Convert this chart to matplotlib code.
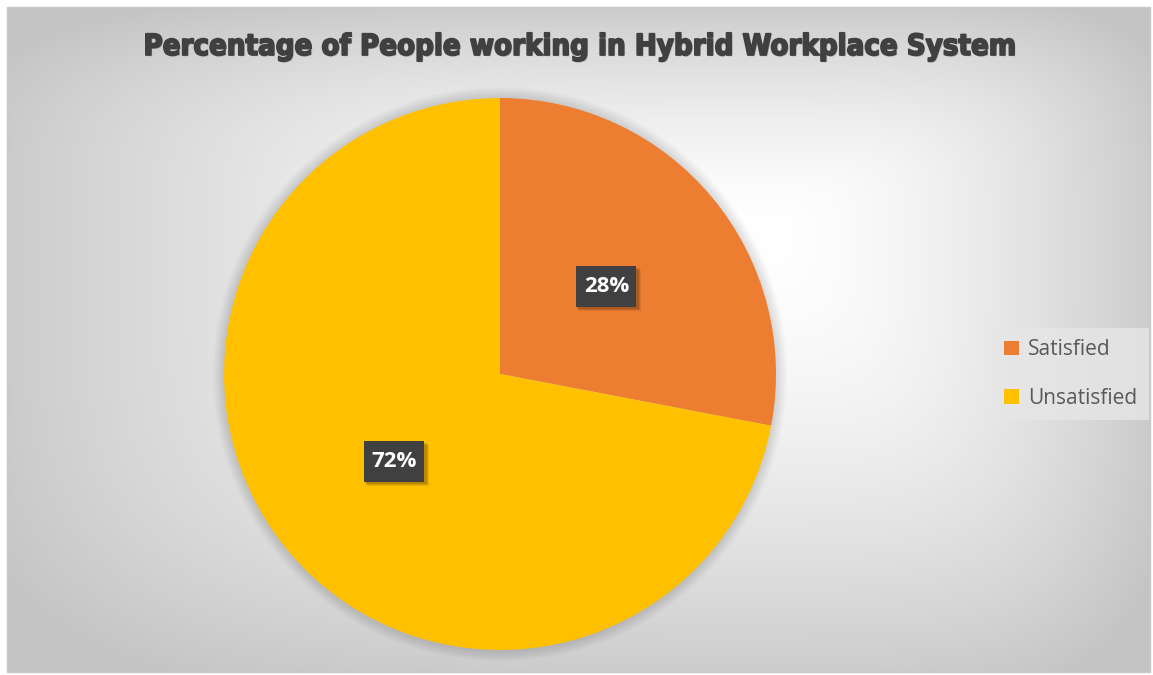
import matplotlib
matplotlib.use('Agg')
import matplotlib.pyplot as plt
import matplotlib.patheffects as pe
import matplotlib.transforms as mtransforms
from matplotlib.patches import Rectangle, Patch, Circle
import numpy as np

labels = ['Satisfied', 'Unsatisfied']
values = [28, 72]
colors = ['#ED7D31', '#FFC000']
title = 'Percentage of People working in Hybrid Workplace System'

W, H = 1153, 675
fig = plt.figure(figsize=(W / 100, H / 100), dpi=100)
fig.patch.set_facecolor('white')

# background: rectangular path gradient, white at (760, 230), grey at the edges
bg = fig.add_axes([0, 0, 1, 1])
bg.set_xlim(0, W)
bg.set_ylim(H, 0)
bg.axis('off')
yy, xx = np.mgrid[7:672, 7:1150].astype(float)
cx, cy = 760.0, 230.0
dx = np.where(xx < cx, (cx - xx) / (cx - 7), (xx - cx) / (1150 - cx))
dy = np.where(yy < cy, (cy - yy) / (cy - 7), (yy - cy) / (672 - cy))
d = (dx ** 4 + dy ** 4) ** 0.25
shade = np.clip(1.0 - 0.2 * d ** 1.6, 0.77, 1.0)
img = np.dstack([shade, shade, shade])
bg.imshow(img, extent=(7, 1150, 672, 7), aspect='auto', zorder=0)
bg.add_patch(Rectangle((7, 7), 1143, 665, fill=False, edgecolor='#c8c8c8', lw=1, zorder=1))

bg.text(580, 47, title, ha='center', va='center', fontsize=21, fontweight='bold',
        family='DejaVu Sans', fontstretch='condensed', color='#404040',
        path_effects=[pe.withSimplePatchShadow(offset=(1, -1), shadow_rgbFace='#808080', alpha=0.3),
                      pe.withStroke(linewidth=1.3, foreground='#404040')])

# pie
ax = fig.add_axes([224 / W, 25 / H, 552 / W, 552 / H])
# soft halo around the pie
for k in range(8):
    ax.add_patch(Circle((0, 0), 1.0 + 0.005 * (k + 1), facecolor='#000000', edgecolor='none',
                        alpha=0.015, zorder=0, clip_on=False))
wedges, texts, autotexts = ax.pie(values, colors=colors, startangle=90, counterclock=False,
                                  radius=1, autopct='%1.0f%%', pctdistance=0.5,
                                  wedgeprops=dict(linewidth=0, zorder=1))
ax.set_xlim(-1, 1)
ax.set_ylim(-1, 1)
ax.set_aspect('equal')
ax.axis('off')

for t in autotexts:
    t.set_color('white')
    t.set_fontsize(16)
    t.set_fontweight('bold')
    t.set_family('Open Sans')
    t.set_zorder(4)
    x, y = t.get_position()
    tr = mtransforms.IdentityTransform() + mtransforms.ScaledTranslation(x, y, ax.transData)
    # soft shadow below/right of the label box
    for k, a in enumerate([0.12, 0.1, 0.08]):
        ax.add_patch(Rectangle((-30 + 1 + k, -20.5 - 2 - k), 60 + 2, 41, transform=tr,
                               facecolor='#000000', edgecolor='none', alpha=a, zorder=2, clip_on=False))
    ax.add_patch(Rectangle((-30, -20.5), 60, 41, transform=tr, facecolor='#404040',
                           edgecolor='none', zorder=3, clip_on=False))

# legend
leg_handles = [Patch(facecolor=c, edgecolor='none') for c in colors]
leg = fig.legend(leg_handles, labels, loc='center left', bbox_to_anchor=(993 / W, 1 - 374 / H),
                 frameon=True, handlelength=0.7, handleheight=0.7,
                 handletextpad=0.45, labelspacing=1.3, borderpad=0.55, borderaxespad=0, fancybox=False,
                 prop={'family': 'Open Sans', 'size': 15})
leg.get_frame().set_facecolor('#e6e6e6')
leg.get_frame().set_edgecolor('none')
leg.get_frame().set_alpha(0.8)
for t in leg.get_texts():
    t.set_color('#595959')

fig.savefig('out.png', dpi=100)
